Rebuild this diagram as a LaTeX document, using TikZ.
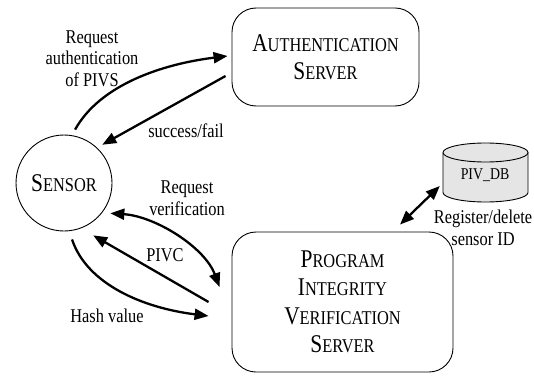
\documentclass[tikz,border=0pt]{standalone}
\usepackage{fontspec}
\setmainfont{Liberation Serif}[FakeStretch=0.84]
\usetikzlibrary{arrows.meta}
\newcommand{\fakesc}[2]{{\fontsize{25.5}{28}\selectfont #1}{\fontsize{19.5}{28}\selectfont #2}}
\begin{document}
\begin{tikzpicture}[x=1pt,y=-1pt,
  srvbox/.style={draw, rounded corners=24pt, line width=0.9pt, inner sep=0pt, align=center,
    font=\fontsize{19.5}{28.5}\selectfont},
  lbl/.style={font=\fontsize{19.5}{21.5}\selectfont, align=center, inner sep=0pt},
  arr/.style={line width=2.3pt, -{Triangle[length=14pt,width=11pt]}},
  darr/.style={line width=2.3pt, {Triangle[length=14pt,width=11pt]}-{Triangle[length=14pt,width=11pt]}}]
\useasboundingbox (0,0) rectangle (534,377);

% nodes
\node[srvbox, minimum width=187pt, minimum height=98pt] (auth) at (325.5,57)
  {\fakesc{A}{UTHENTICATION}\\\fakesc{S}{ERVER}};
\node[srvbox, minimum width=221pt, minimum height=140pt] (pivs) at (342.5,302)
  {\fakesc{P}{ROGRAM}\\\fakesc{I}{NTEGRITY}\\\fakesc{V}{ERIFICATION}\\\fakesc{S}{ERVER}};
\node[circle, draw, line width=0.9pt, minimum size=96pt, inner sep=0pt] (sensor) at (64,183)
  {\fakesc{S}{ENSOR}};

% database cylinder
\fill[black!10] (443,152.5) -- (443,192.5) arc[start angle=180, end angle=360, x radius=42.5pt, y radius=9.5pt]
  -- (528,152.5) arc[start angle=0, end angle=180, x radius=42.5pt, y radius=9.5pt] -- cycle;
\draw[line width=0.9pt] (443,152.5) -- (443,192.5) arc[start angle=180, end angle=360, x radius=42.5pt, y radius=9.5pt]
  -- (528,152.5);
\draw[line width=0.9pt] (485.5,152.5) ellipse[x radius=42.5pt, y radius=9.5pt];
\node[minimum width=85pt, minimum height=59pt, inner sep=0pt] (db) at (485.5,172.5) {};
\node[anchor=base, inner sep=0pt, font=\fontsize{16.5}{18}\selectfont] (dblabel) at (485,179) {PIV\_DB};

% connectors
\draw[arr] ([xshift=1pt,yshift=6pt]sensor.78) .. controls +(25,-45) and +(-65,8) .. ([xshift=-4pt,yshift=1pt]auth.west);
\draw[arr] ([xshift=-6pt,yshift=-19pt]auth.west) -- ([xshift=4pt,yshift=4pt]sensor.45);
\draw[darr] ([xshift=5.7pt,yshift=-3.9pt]sensor.-33) .. controls +(45,3) and +(-15,-40) .. ([xshift=-12pt,yshift=15pt]pivs.west);
\draw[arr] ([xshift=-23pt]pivs.west) -- ([xshift=5.7pt,yshift=-10pt]sensor.-61);
\draw[arr] ([xshift=1.3pt,yshift=-8.5pt]sensor.-82) .. controls +(15,45) and +(-65,-8) .. ([xshift=-23pt,yshift=-14pt]pivs.west);
\draw[darr] ([xshift=57.5pt,yshift=7pt]pivs.north) -- ([xshift=-3pt,yshift=-13.5pt]db.west);

% labels (base = baseline of last line)
\node[lbl, anchor=base] (l1) at (92,86) {Request\\authentication\\of PIVS};
\node[lbl, anchor=base] (l2) at (186,137) {success/fail};
\node[lbl, anchor=base] (l3) at (187,215) {Request\\verification};
\node[lbl, anchor=base] (l4) at (165,261) {PIVC};
\node[lbl, anchor=base] (l5) at (107,322) {Hash value};
\node[lbl, anchor=base] (l6) at (483,245) {Register/delete\\sensor ID};
\end{tikzpicture}
\end{document}
